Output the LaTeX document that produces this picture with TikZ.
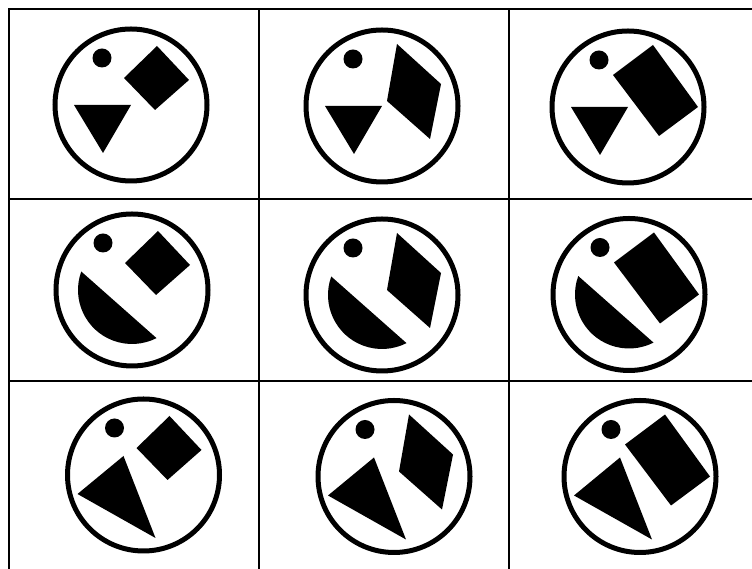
\documentclass[tikz,border=0pt]{standalone}
\usepackage{tikz}

\begin{document}
\begin{tikzpicture}[x=1pt, y=1pt,
  gridline/.style = {line width=2pt},
  ring/.style = {line width=5pt},
  blob/.style = {fill=black}
  ]
  \useasboundingbox (0,0) rectangle (752,569);

  % grid
  \draw[gridline] (9,0) -- (9,560) -- (752,560);
  \draw[gridline] (259,0) -- (259,560);
  \draw[gridline] (509,0) -- (509,560);
  \draw[gridline] (9,370) -- (752,370);
  \draw[gridline] (9,188) -- (752,188);

  % centres of the discs
  \coordinate (c11) at (131,464);
  \coordinate (c12) at (382,463);
  \coordinate (c13) at (628,462);
  \coordinate (c21) at (132,279);
  \coordinate (c22) at (382,274);
  \coordinate (c23) at (629,274.5);
  \coordinate (c31) at (143.5,94);
  \coordinate (c32) at (394,92.5);
  \coordinate (c33) at (640,92.5);

  \foreach \c in {c11,c12,c13,c21,c22,c23,c31,c32,c33} {
    \draw[ring] (\c) circle (76);
    \fill[blob, shift={(\c)}] (-29,47) circle (9.5);
  }

  % upper right: square, rhomb, oblong
  \foreach \c in {c11,c21,c31}
    \fill[blob, shift={(\c)}] (26,59) -- (58,25) -- (24,-5) -- (-7,27) -- cycle;
  \foreach \c in {c12,c22,c32}
    \fill[blob, shift={(\c)}] (15,62) -- (59,22) -- (48,-33) -- (5,5) -- cycle;
  \foreach \c in {c13,c23,c33}
    \fill[blob, shift={(\c)}] (25,62) -- (70,0) -- (31,-29) -- (-15,32) -- cycle;

  % lower left: small triangle, segment, big triangle
  \foreach \c in {c11,c12,c13}
    \fill[blob, shift={(\c)}] (-57,0) -- (0,0) -- (-28,-48) -- cycle;
  \foreach \c in {c21,c22,c23}
    \fill[blob, shift={(\c)}] (160:54) arc[start angle=160, end angle=297, radius=54] -- cycle;
  \foreach \c in {c31,c32,c33}
    \fill[blob, shift={(\c)}] (-20,19) -- (-66,-19) -- (12,-63) -- cycle;
\end{tikzpicture}
\end{document}
